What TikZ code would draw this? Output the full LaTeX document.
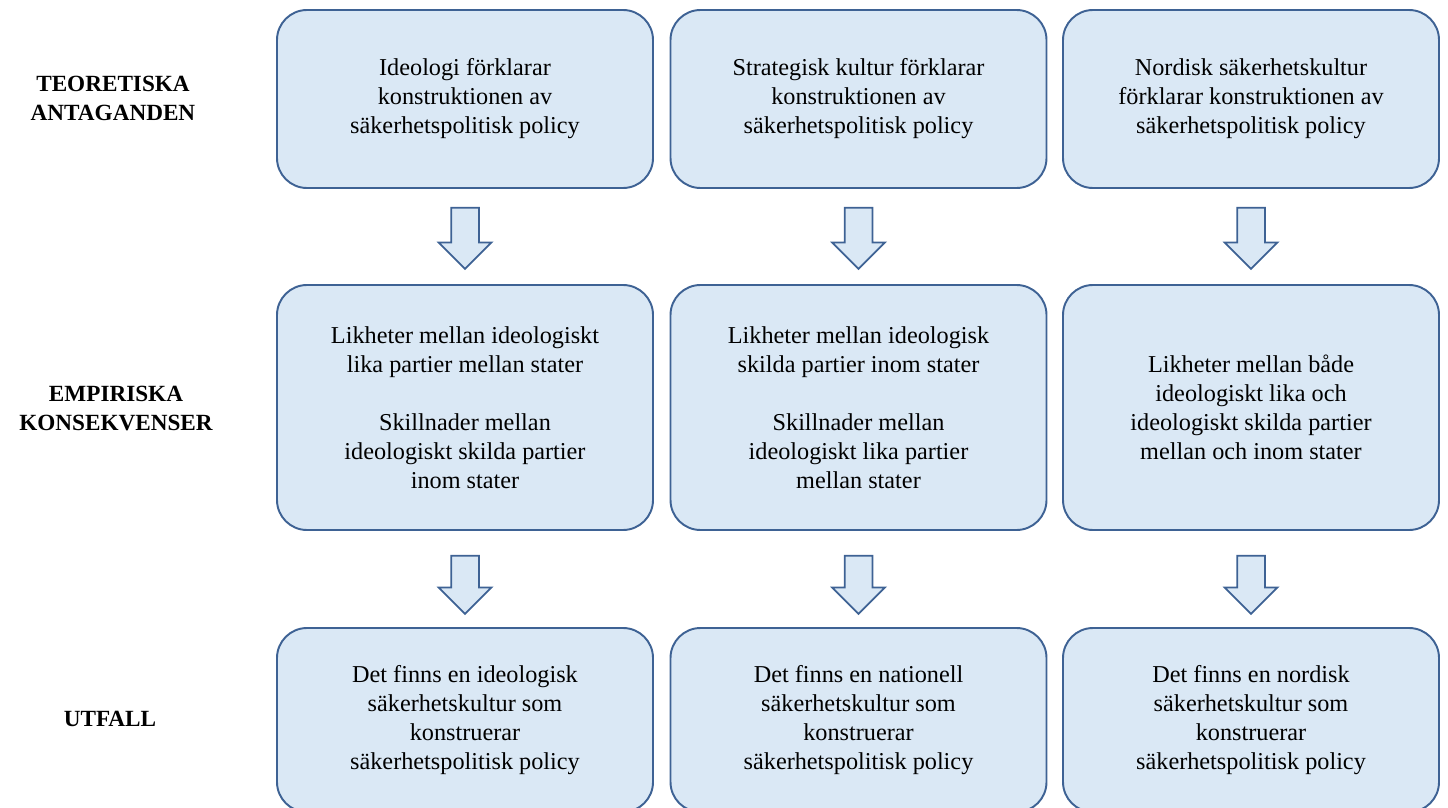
\documentclass[tikz,border=0pt]{standalone}
\usepackage{fontspec}
\setmainfont{Liberation Serif}
\usepackage{tikz}
\usetikzlibrary{shapes,arrows}
\usetikzlibrary{positioning}
\usetikzlibrary{calc}
\definecolor{boxfill}{RGB}{218,232,245}
\definecolor{boxline}{RGB}{62,98,148}
\tikzstyle{block} = [draw=boxline, fill=boxfill, line width=1.1pt,
rounded corners=0.6cm, minimum width=7.52cm, align=center,
font=\fontsize{13.8}{16.5}\selectfont]
\tikzstyle{down} = [draw=boxline, fill=boxfill, line width=1pt, single arrow,
shape border rotate=270, inner sep=0.26cm, minimum width=1.02cm, minimum height=1.22cm,
single arrow head extend=0.25cm, single arrow tip angle=90, anchor=tail]

\begin{document}
\begin{tikzpicture}[auto,
    rubrik/.style={align=center, font=\fontsize{13.2}{16.5}\selectfont\bfseries}]
    \useasboundingbox (0,0) rectangle (28.96,-16.14);
    \clip (0,0) rectangle (28.96,-16.14);
    %% Rubriker
    \node[rubrik] (hT) at (2.26,-1.96) {TEORETISKA\\ANTAGANDEN};
    \node[rubrik] (hE) at (2.32,-8.16) {EMPIRISKA\\KONSEKVENSER};
    \node[rubrik] (hU) at (2.20,-14.38) {UTFALL};
    %% Teoretiska antaganden
    \node[block, minimum height=3.56cm] (T1) at (9.30,-1.98) {Ideologi förklarar\\konstruktionen av\\säkerhetspolitisk policy};
    \node[block, minimum height=3.56cm] (T2) at (17.17,-1.98) {Strategisk kultur förklarar\\konstruktionen av\\säkerhetspolitisk policy};
    \node[block, minimum height=3.56cm] (T3) at (25.02,-1.98) {Nordisk säkerhetskultur\\förklarar konstruktionen av\\säkerhetspolitisk policy};
    %% Empiriska konsekvenser
    \node[block, minimum height=4.90cm] (E1) at (9.30,-8.15) {Likheter mellan ideologiskt\\lika partier mellan stater\\[16.5pt]Skillnader mellan\\ideologiskt skilda partier\\inom stater};
    \node[block, minimum height=4.90cm] (E2) at (17.17,-8.15) {Likheter mellan ideologisk\\skilda partier inom stater\\[16.5pt]Skillnader mellan\\ideologiskt lika partier\\mellan stater};
    \node[block, minimum height=4.90cm] (E3) at (25.02,-8.15) {Likheter mellan både\\ideologiskt lika och\\ideologiskt skilda partier\\mellan och inom stater};
    %% Utfall
    \node[block, minimum height=3.68cm] (U1) at (9.30,-14.40) {Det finns en ideologisk\\säkerhetskultur som\\konstruerar\\säkerhetspolitisk policy};
    \node[block, minimum height=3.68cm] (U2) at (17.17,-14.40) {Det finns en nationell\\säkerhetskultur som\\konstruerar\\säkerhetspolitisk policy};
    \node[block, minimum height=3.68cm] (U3) at (25.02,-14.40) {Det finns en nordisk\\säkerhetskultur som\\konstruerar\\säkerhetspolitisk policy};
    %% Pilar
    \foreach \k in {1,2,3} {
        \node[down] (a\k) at ($(T\k.south)+(0,-0.36)$) {};
        \node[down, minimum height=1.16cm] (b\k) at ($(E\k.south)+(0,-0.48)$) {};
    }
\end{tikzpicture}
\end{document}
